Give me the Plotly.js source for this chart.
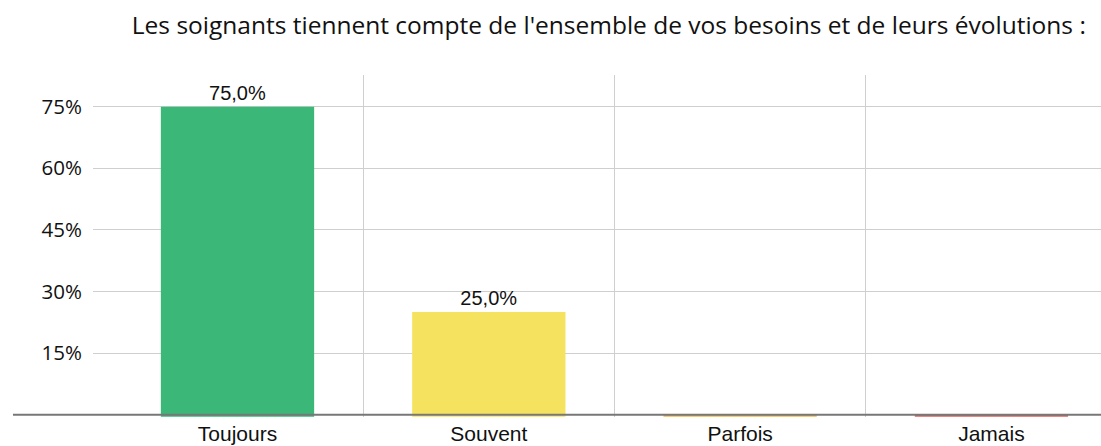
<!DOCTYPE html>
<html><head><meta charset="utf-8">
<script src="https://cdn.plot.ly/plotly-3.0.1.min.js"></script>
<style>body{margin:0;background:#fff}#c{width:1101px;height:446px}</style>
</head><body><div id="c"></div>
<script>
const categories = ["Toujours", "Souvent", "Parfois", "Jamais"];
const values = [75.0, 25.0, 0.0, 0.0];
const colors = ["#3bb878", "#f5e35f", "#f4b947", "#e0615a"];
const yTicks = [15, 30, 45, 60, 75];
const yTickLabels = ["15%", "30%", "45%", "60%", "75%"];
const titleText = "Les soignants tiennent compte de l'ensemble de vos besoins et de leurs évolutions :";

const xIdx = categories.map((c, i) => i);
const labels = values.map(v => v > 0 ? v.toFixed(1).replace('.', ',') + '%' : '');
const ARIAL = 'Liberation Sans';

const bars = {
  type: 'bar', x: xIdx, y: values, width: 0.61,
  marker: {color: colors, line: {width: 0}},
  text: labels, textposition: 'outside', cliponaxis: false,
  textfont: {family: ARIAL, size: 20, color: '#111'},
  hoverinfo: 'none'
};
// thin base stub drawn just under the axis line for every category (as in the source chart)
const stubs = {
  type: 'bar', x: xIdx, y: categories.map(() => 0.5), base: -0.5, width: 0.61,
  marker: {color: colors, line: {width: 0}}, hoverinfo: 'none'
};

const layout = {
  width: 1101, height: 446,
  margin: {l: 93, r: 0, t: 75, b: 29},
  paper_bgcolor: '#fff', plot_bgcolor: '#fff',
  showlegend: false, barmode: 'overlay',
  title: {text: titleText, x: 0.553, xanchor: 'center', y: 0.944, yanchor: 'middle',
    font: {family: 'Open Sans, sans-serif', size: 24.5, color: '#111'}},
  xaxis: {
    range: [-0.575, 3.436], tickmode: 'array', tickvals: xIdx, ticktext: categories,
    showgrid: false, zeroline: false, showline: false, ticks: '',
    ticklabelstandoff: 2,
    tickfont: {family: ARIAL, size: 21, color: '#111'},
    minor: {tickmode: 'array', tickvals: [0.5, 1.5, 2.5], showgrid: true, gridcolor: '#cfcfcf', gridwidth: 1, ticks: ''}
  },
  yaxis: {
    range: [-0.55, 82.72], tickmode: 'array', tickvals: yTicks, ticktext: yTickLabels,
    showgrid: true, gridcolor: '#cfcfcf', gridwidth: 1, zeroline: false, showline: false, ticks: '',
    ticklabelstandoff: 10,
    tickfont: {family: 'Open Sans, sans-serif', size: 20.5, color: '#111'}
  },
  shapes: [{type: 'line', xref: 'paper', yref: 'y', x0: -0.0794, x1: 1, y0: 0, y1: 0,
    line: {color: '#777', width: 2}, layer: 'above'}]
};

Plotly.newPlot('c', [bars, stubs], layout, {staticPlot: true});
</script></body></html>
